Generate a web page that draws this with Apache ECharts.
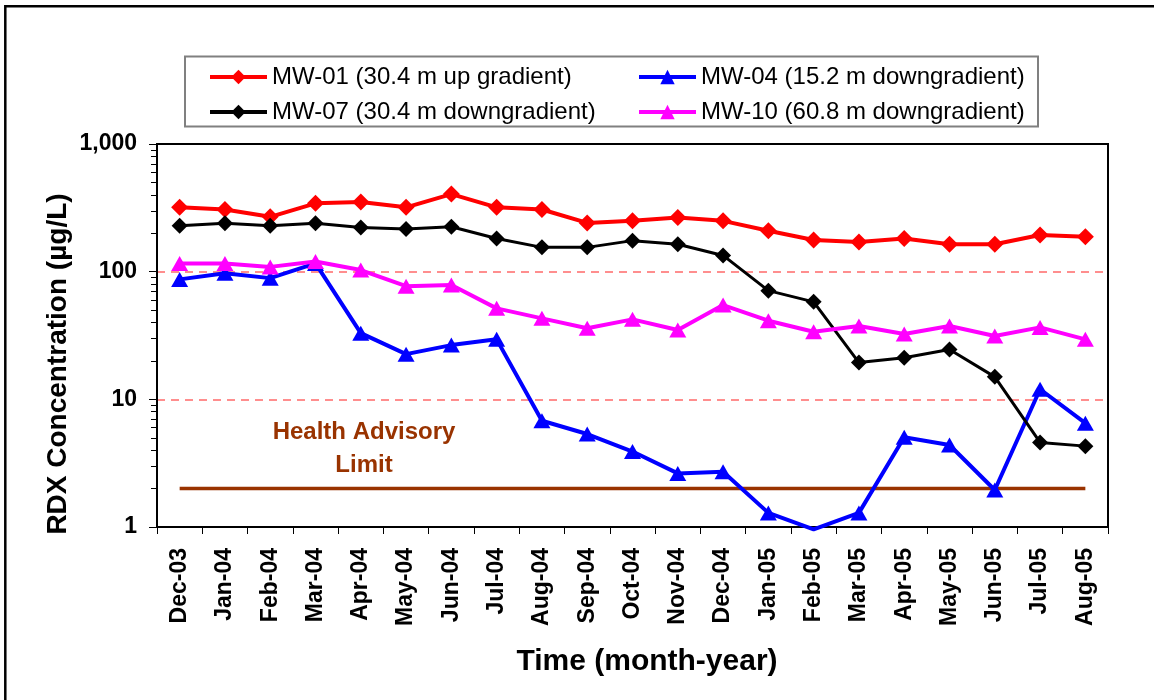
<!DOCTYPE html>
<html>
<head>
<meta charset="utf-8">
<title>RDX Concentration</title>
<script src="https://cdn.jsdelivr.net/npm/echarts@6.0.0/dist/echarts.min.js"></script>
<style>
  html, body { margin: 0; padding: 0; background: #fff; }
  #chartDiv { width: 1154px; height: 700px; }
</style>
</head>
<body>
<div id="chartDiv"></div>
<script>
// months sampled
var months = ['Dec-03', 'Jan-04', 'Feb-04', 'Mar-04', 'Apr-04', 'May-04', 'Jun-04', 'Jul-04',
    'Aug-04', 'Sep-04', 'Oct-04', 'Nov-04', 'Dec-04', 'Jan-05', 'Feb-05', 'Mar-05', 'Apr-05',
    'May-05', 'Jun-05', 'Jul-05', 'Aug-05'];

// RDX concentration per well (ug/L)
var mw01 = [319, 307, 269, 343, 351, 319, 405, 319, 307, 241, 250, 266, 250, 209, 177, 171, 182, 164, 164, 194, 188];
var mw04 = [87, 97, 89, 116, 33, 22.6, 26.6, 29.5, 6.8, 5.35, 3.9, 2.63, 2.71, 1.29, 0.96, 1.29, 5.04, 4.39, 1.95, 12, 6.5];
var mw07 = [229, 239, 229, 239, 222, 216, 225, 182, 155, 155, 175, 164, 134, 71, 58, 19.4, 21.2, 24.6, 15, 4.6, 4.3];
var mw10 = [116, 116, 109, 120, 103, 77, 78.5, 51.6, 43.1, 36, 42.3, 34.9, 54.7, 41.3, 33.8, 37.5, 32.5, 37.5, 31.3, 36.6, 29.5];

// health advisory limit (ug/L)
var healthLimit = 2;

// y axis minor ticks
var minorTicks = [2, 3, 4, 5, 6, 7, 8, 9, 20, 30, 40, 50, 60, 70, 80, 90, 200, 300, 400, 500, 600, 700, 800, 900];

var names = {
    mw01: 'MW-01 (30.4 m up gradient)',
    mw04: 'MW-04 (15.2 m downgradient)',
    mw07: 'MW-07 (30.4 m downgradient)',
    mw10: 'MW-10 (60.8 m downgradient)'
};

var font = 'Arial, "Liberation Sans", sans-serif';

var chart = echarts.init(document.getElementById('chartDiv'));

// points below the axis minimum are drawn without a marker
function belowOne(arr) {
    return arr.map(function (v) {
        return v < 1 ? { value: v, symbol: 'none' } : v;
    });
}

function lineSeries(name, data, color, symbol, size, width) {
    return {
        name: name,
        type: 'line',
        data: data,
        symbol: symbol,
        symbolSize: size,
        clip: false,
        itemStyle: { color: color },
        lineStyle: { color: color, width: width },
        emphasis: { disabled: true },
        z: 3
    };
}

var legendText = { fontFamily: font, fontSize: 24, color: '#000', lineHeight: 24 };

function legendItem(name, width) {
    return { name: name, lineStyle: { width: width } };
}

var option = {
    animation: false,
    backgroundColor: '#fff',
    textStyle: { fontFamily: font },
    grid: {
        left: 157, right: 46, top: 144, bottom: 173,
        show: true, borderColor: '#000', borderWidth: 2, backgroundColor: '#fff'
    },
    legend: [{
        orient: 'vertical',
        left: 203, top: 60,
        itemWidth: 57, itemHeight: 18, itemGap: 11,
        selectedMode: false,
        textStyle: legendText,
        data: [legendItem(names.mw01, 4), legendItem(names.mw07, 4)]
    }, {
        orient: 'vertical',
        left: 632, top: 60,
        itemWidth: 57, itemHeight: 18, itemGap: 11,
        selectedMode: false,
        textStyle: legendText,
        data: [legendItem(names.mw04, 4), legendItem(names.mw10, 4)]
    }],
    xAxis: {
        type: 'category',
        data: months,
        boundaryGap: true,
        axisLine: { lineStyle: { color: '#000', width: 2 } },
        axisTick: { show: true, interval: 0, length: 7, lineStyle: { color: '#000', width: 1 } },
        axisLabel: {
            interval: 0, rotate: 90, margin: 21,
            fontFamily: font, fontSize: 23, fontWeight: 'bold', color: '#000'
        },
        splitLine: { show: false }
    },
    yAxis: [{
        type: 'log',
        logBase: 10,
        min: 1,
        max: 1000,
        axisLine: { show: true, lineStyle: { color: '#000', width: 2 } },
        axisTick: { show: true, length: 8, lineStyle: { color: '#000', width: 1 } },
        axisLabel: {
            margin: 20, fontFamily: font, fontSize: 23, fontWeight: 'bold', color: '#000',
            formatter: function (v) { return Math.round(v).toLocaleString('en-US'); }
        },
        splitLine: {
            show: true,
            lineStyle: {
                color: ['rgba(0,0,0,0)', '#ff6a6a', '#ff6a6a', 'rgba(0,0,0,0)'],
                type: [8, 6], width: 1.5
            }
        }
    }, {
        // minor ticks only
        type: 'log',
        logBase: 10,
        min: 1,
        max: 1000,
        position: 'left',
        axisLine: { show: false },
        axisTick: { show: true, length: 6, customValues: minorTicks, lineStyle: { color: '#000', width: 1 } },
        axisLabel: { show: false },
        splitLine: { show: false }
    }],
    graphic: [
        // outer frame
        { type: 'rect', shape: { x: 5.3, y: 6.2, width: 1200, height: 760 },
          style: { fill: 'none', stroke: '#000', lineWidth: 2.5 }, silent: true, z: 100 },
        // legend box
        { type: 'rect', shape: { x: 185, y: 56.5, width: 853, height: 70 },
          style: { fill: 'none', stroke: '#808080', lineWidth: 2 }, silent: true },
        // axis titles
        { type: 'text', x: 58, y: 364, rotation: Math.PI / 2,
          style: { text: 'RDX Concentration (\u00b5g/L)', font: 'bold 28px ' + font, fill: '#000',
                   textAlign: 'center', textVerticalAlign: 'middle' } },
        { type: 'text', x: 647, y: 662,
          style: { text: 'Time (month-year)', font: 'bold 30px ' + font, fill: '#000',
                   textAlign: 'center', textVerticalAlign: 'middle' } },
        // health advisory note
        { type: 'text', x: 364, y: 449,
          style: { text: 'Health Advisory\nLimit', font: 'bold 24px ' + font, fill: '#993300',
                   textAlign: 'center', textVerticalAlign: 'middle', lineHeight: 33 } }
    ],
    series: [
        {
            name: 'Health Advisory Limit',
            type: 'line',
            data: months.map(function () { return healthLimit; }),
            symbol: 'none',
            lineStyle: { color: '#993300', width: 3.5 },
            emphasis: { disabled: true },
            silent: true,
            z: 2
        },
        lineSeries(names.mw01, mw01, '#ff0000', 'diamond', 17, 4),
        lineSeries(names.mw04, belowOne(mw04), '#0000ff', 'triangle', [17, 15], 4),
        lineSeries(names.mw07, mw07, '#000000', 'diamond', 16, 3),
        lineSeries(names.mw10, mw10, '#ff00ff', 'triangle', [17, 15], 4)
    ]
};

chart.setOption(option);
window.onresize = chart.resize;
</script>
</body>
</html>
